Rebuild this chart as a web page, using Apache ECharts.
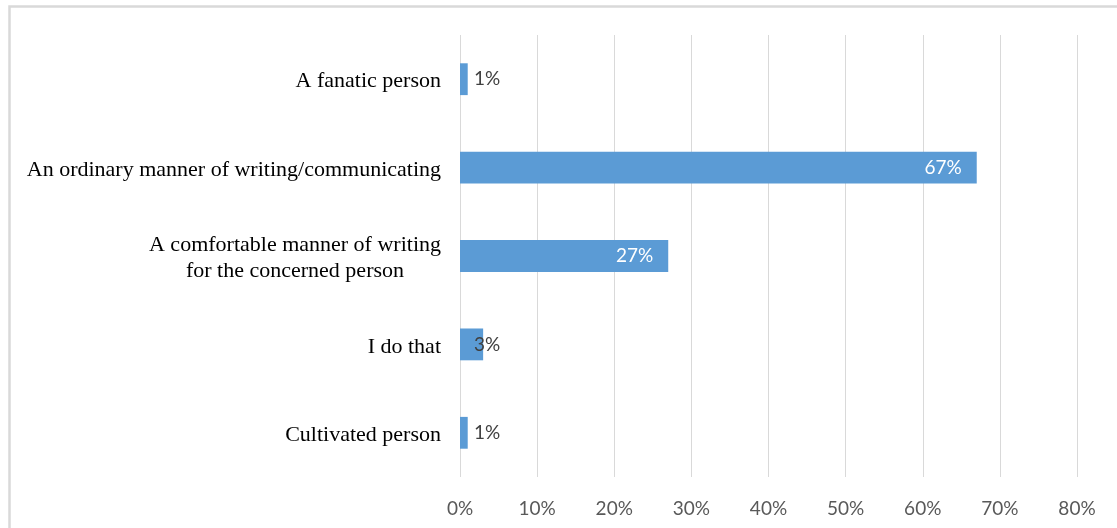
<!DOCTYPE html>
<html>
<head>
<meta charset="utf-8">
<script src="https://cdn.jsdelivr.net/npm/echarts@6/dist/echarts.min.js"></script>
<style>
  html, body { margin: 0; padding: 0; background: #ffffff; }
  #chart { width: 1117px; height: 528px; }
</style>
</head>
<body>
<div id="chart"></div>
<script>
// Survey answers, listed top to bottom
const categories = [
  'A fanatic person',
  'An ordinary manner of writing/communicating',
  'A comfortable manner of writing\nfor the concerned person',
  'I do that',
  'Cultivated person'
];
// Share of respondents, in percent
const shares = [1, 67, 27, 3, 1];
// Horizontal axis range and step, in percent
const axisMin = 0;
const axisMax = 80;
const axisStep = 10;

const labelFont = 'Lato, "Open Sans", sans-serif';
const serifFont = '"Liberation Serif", "DejaVu Serif", serif';

const barData = shares.map(function (v) {
  const wide = v >= 10;
  return {
    value: v,
    label: wide
      ? { position: 'insideRight', distance: 15, color: '#ffffff' }
      : { position: 'insideLeft', distance: 14, color: '#404040' }
  };
});

const chart = echarts.init(document.getElementById('chart'), null, { renderer: 'canvas' });
chart.setOption({
  backgroundColor: '#ffffff',
  animation: false,
  graphic: [{
    type: 'rect',
    shape: { x: 9.5, y: 6.5, width: 1300, height: 700 },
    style: { fill: 'none', stroke: '#d9d9d9', lineWidth: 2.5 },
    silent: true
  }],
  grid: { left: 460, right: 40, top: 35, bottom: 51, containLabel: false },
  xAxis: {
    type: 'value',
    min: axisMin,
    max: axisMax,
    interval: axisStep,
    axisLine: { show: false },
    axisTick: { show: false },
    splitLine: { show: true, lineStyle: { color: '#d9d9d9', width: 1 } },
    axisLabel: {
      formatter: '{value}%',
      color: '#595959',
      fontFamily: labelFont,
      fontSize: 19,
      margin: 22
    }
  },
  yAxis: {
    type: 'category',
    data: categories,
    inverse: true,
    axisLine: { show: false },
    axisTick: { show: false },
    splitLine: { show: false },
    axisLabel: {
      margin: 19,
      padding: [5, 0, 0, 0],
      color: '#000000',
      fontFamily: serifFont,
      fontSize: 22,
      lineHeight: 26,
      formatter: function (name) {
        return name.split('\n').map(function (line) {
          return '{c|' + line + '}';
        }).join('\n');
      },
      rich: {
        c: {
          align: 'center',
          color: '#000000',
          fontFamily: serifFont,
          fontSize: 22,
          lineHeight: 26
        }
      }
    }
  },
  series: [{
    type: 'bar',
    data: barData,
    barWidth: '36%',
    itemStyle: { color: '#5b9bd5' },
    label: {
      show: true,
      formatter: '{c}%',
      fontFamily: labelFont,
      fontSize: 19
    }
  }]
});
</script>
</body>
</html>
